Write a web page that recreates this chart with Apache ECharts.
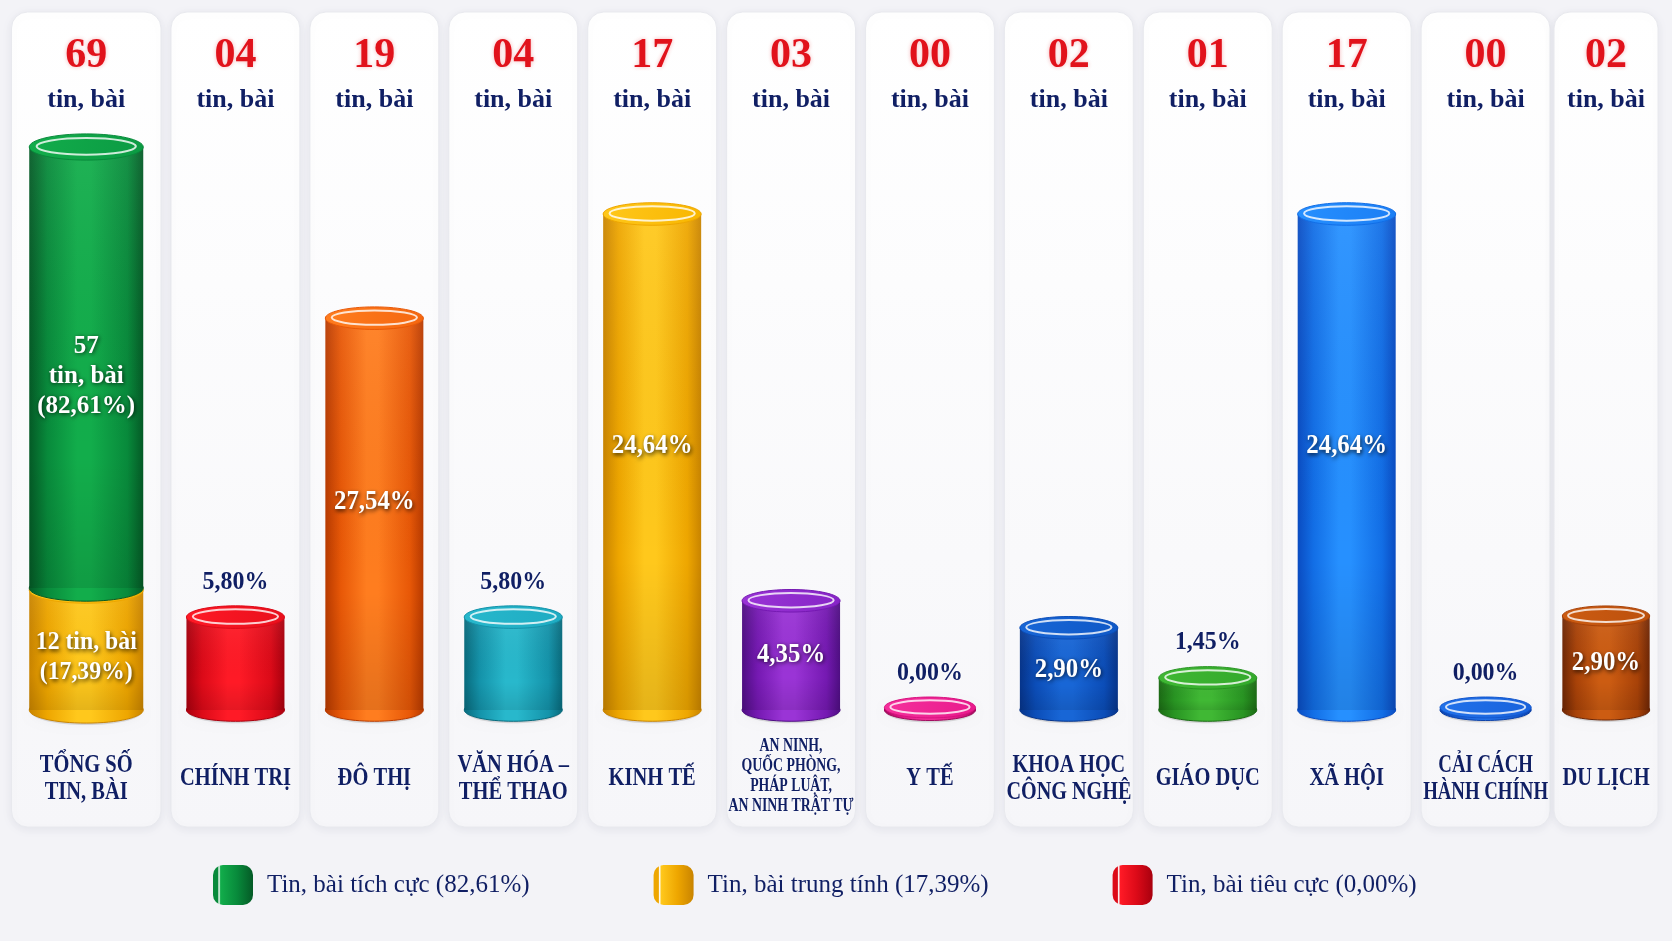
<!DOCTYPE html>
<html>
<head>
<meta charset="utf-8">
<script src="https://cdn.jsdelivr.net/npm/echarts@6/dist/echarts.min.js"></script>
<style>
  html, body { margin: 0; padding: 0; background: #f3f3f7; }
  #chart { width: 1672px; height: 941px; }
</style>
</head>
<body>
<div id="chart"></div>
<script>
// ---------------- DATA ----------------
const categories = [
  'TỔNG SỐ\nTIN, BÀI', 'CHÍNH TRỊ', 'ĐÔ THỊ', 'VĂN HÓA –\nTHỂ THAO', 'KINH TẾ',
  'AN NINH,\nQUỐC PHÒNG,\nPHÁP LUẬT,\nAN NINH TRẬT TỰ', 'Y TẾ', 'KHOA HỌC\nCÔNG NGHỆ',
  'GIÁO DỤC', 'XÃ HỘI', 'CẢI CÁCH\nHÀNH CHÍNH', 'DU LỊCH'
];
const counts   = [69, 4, 19, 4, 17, 3, 0, 2, 1, 17, 0, 2];
const percents = [null, 5.80, 27.54, 5.80, 24.64, 4.35, 0.00, 2.90, 1.45, 24.64, 0.00, 2.90];
// column heights as drawn in the infographic (0–100 visual scale, not proportional to counts)
const barLevel = [100, 16.5, 69.6, 16.5, 88.1, 19.4, 0, 14.6, 5.7, 88.1, 0, 16.7];

const sentimentNames    = ['Tin, bài tích cực', 'Tin, bài trung tính', 'Tin, bài tiêu cực'];
const sentimentCounts   = [57, 12, 0];
const sentimentPercents = [82.61, 17.39, 0.00];
// share of the total column's drawn height (positive, neutral, negative)
const sentimentLevel    = [78.7, 21.3, 0];

// ---------------- STYLE ----------------
const FONT = '"Liberation Serif", "Times New Roman", serif';
const NAVY = '#101f64';
const RED = '#e1121b';
const W = 1672;
const PANEL_TOP = 12, PANEL_BOTTOM = 827, PANEL_GAP = 10, EDGE_L = 11.5, EDGE_R = W - 14;

const PAL = {
  green:  { dark: '#045a26', mid: '#088a3b', light: '#12ad4b', top: '#0b9a43' },
  gold:   { dark: '#c98400', mid: '#eea600', light: '#ffc81c', top: '#f8b600' },
  red:    { dark: '#a8000e', mid: '#dc0a18', light: '#ff1a26', top: '#e80f1c' },
  orange: { dark: '#b83a00', mid: '#e85807', light: '#ff7d1f', top: '#f4660f' },
  teal:   { dark: '#086a7c', mid: '#1493aa', light: '#28b8cc', top: '#1eabc2' },
  purple: { dark: '#4e0e82', mid: '#7519b2', light: '#9a34d6', top: '#8624c6' },
  pink:   { dark: '#a0095c', mid: '#d8127f', light: '#f5309c', top: '#e81a8c' },
  navyb:  { dark: '#06348a', mid: '#0b4db8', light: '#1866d6', top: '#0f58c6' },
  leaf:   { dark: '#1b6a14', mid: '#289422', light: '#40b834', top: '#33a82b' },
  blue:   { dark: '#0a4cc2', mid: '#126ee6', light: '#2690ff', top: '#1b7ef4' },
  blue2:  { dark: '#0a40a8', mid: '#1256cc', light: '#2272ea', top: '#1862dc' },
  brown:  { dark: '#6e2604', mid: '#a84208', light: '#cc5c12', top: '#bc500d' }
};
const topicColor = [null, 'red', 'orange', 'teal', 'gold', 'purple', 'pink', 'navyb', 'leaf', 'blue', 'blue2', 'brown'];
const INSIDE_LABEL = new Set([2, 4, 5, 7, 9, 11]);

const fmtPct = v => v.toFixed(2).replace('.', ',') + '%';
const fmtCount = v => String(v).padStart(2, '0');

const mctx = document.createElement('canvas').getContext('2d');
function textWidth(str, size, weight) {
  mctx.font = weight + ' ' + size + 'px ' + FONT;
  return mctx.measureText(str).width;
}

// card of a category (x = category index on a hidden value axis); outer cards stretch to the page margins
function panelOf(api, idx) {
  const cx = api.coord([idx, 0])[0];
  const band = api.size([1, 0])[0];
  let x0 = cx - band / 2 + PANEL_GAP / 2;
  let x1 = cx + band / 2 - PANEL_GAP / 2;
  if (idx === 0) x0 = EDGE_L;
  if (idx === categories.length - 1) { x1 = EDGE_R; x0 -= 6; }
  x0 = Math.max(EDGE_L, x0);
  x1 = Math.min(EDGE_R, x1);
  return { x0, x1, w: x1 - x0, cx: (x0 + x1) / 2 };
}

function bodyGrad(c) {
  return new echarts.graphic.LinearGradient(0, 0, 1, 0, [
    { offset: 0, color: c.dark }, { offset: 0.16, color: c.mid },
    { offset: 0.42, color: c.light }, { offset: 0.54, color: c.light },
    { offset: 0.86, color: c.mid }, { offset: 1, color: c.dark }
  ]);
}
function topGrad(c) {
  return new echarts.graphic.LinearGradient(0, 0, 1, 1, [
    { offset: 0, color: c.light }, { offset: 1, color: c.top }
  ]);
}
const shadeGrad = () => new echarts.graphic.LinearGradient(0, 0, 0, 1, [
  { offset: 0, color: 'rgba(255,255,255,0.06)' }, { offset: 0.7, color: 'rgba(0,0,0,0)' },
  { offset: 1, color: 'rgba(0,0,0,0.10)' }
]);

function cylinder(cx, w, yTop, yBase, c, withShadow) {
  const rx = w / 2, ry = w * 0.115;
  const ch = [];
  if (withShadow) {
    ch.push({ type: 'ellipse', shape: { cx, cy: yBase + 2, rx: rx * 0.97, ry },
      style: { fill: 'rgba(0,0,0,0.12)', shadowBlur: 8, shadowColor: 'rgba(0,0,0,0.3)' } });
  }
  ch.push({ type: 'ellipse', shape: { cx, cy: yBase, rx, ry },
    style: { fill: bodyGrad(c), stroke: c.dark, lineWidth: 1 } });
  const h = Math.max(0, yBase - yTop);
  ch.push({ type: 'rect', shape: { x: cx - rx, y: yTop, width: w, height: h },
    style: { fill: bodyGrad(c) } });
  if (h > 20) {
    ch.push({ type: 'rect', shape: { x: cx - rx, y: yTop, width: w, height: h },
      style: { fill: shadeGrad() } });
  }
  ch.push({ type: 'ellipse', shape: { cx, cy: yTop, rx, ry },
    style: { fill: topGrad(c), stroke: c.mid, lineWidth: 1 } });
  ch.push({ type: 'ellipse', shape: { cx, cy: yTop - ry * 0.05, rx: rx * 0.87, ry: ry * 0.64 },
    style: { fill: 'none', stroke: 'rgba(255,255,255,0.8)', lineWidth: 2 } });
  return ch;
}

const whiteText = (txt, x, y, size, lh, sx) => ({
  type: 'text', x, y, scaleX: sx || 1, z2: 10,
  style: {
    text: txt, fill: '#ffffff', fontSize: size, fontWeight: 'bold', fontFamily: FONT,
    align: 'center', verticalAlign: 'middle', lineHeight: lh || size,
    textShadowColor: 'rgba(0,0,0,0.75)', textShadowBlur: 4, textShadowOffsetX: 1, textShadowOffsetY: 1.5
  }
});
const navyText = (txt, x, y, size, lh, sx) => ({
  type: 'text', x, y, scaleX: sx || 1, z2: 10,
  style: {
    text: txt, fill: NAVY, fontSize: size, fontWeight: 'bold', fontFamily: FONT,
    align: 'center', verticalAlign: 'middle', lineHeight: lh || size,
    textShadowColor: 'rgba(255,255,255,0.9)', textShadowBlur: 2
  }
});

// ---------------- RENDERERS ----------------
function renderPanel(params, api) {
  const idx = api.value(0);
  const p = panelOf(api, idx);
  const base = api.coord([idx, 0])[1];
  const ch = [];
  ch.push({
    type: 'rect', shape: { x: p.x0, y: PANEL_TOP, width: p.w, height: PANEL_BOTTOM - PANEL_TOP, r: 16 },
    style: {
      fill: new echarts.graphic.LinearGradient(0, 0, 0, 1, [
        { offset: 0, color: '#ffffff' }, { offset: 1, color: '#f6f6f9' }
      ]),
      stroke: '#e8e9ee', lineWidth: 1,
      shadowBlur: 10, shadowColor: 'rgba(30,40,90,0.08)', shadowOffsetY: 2
    }
  });
  ch.push({
    type: 'text', x: p.cx, y: PANEL_TOP + 44,
    style: {
      text: fmtCount(counts[idx]), fill: RED, fontSize: 42, fontWeight: 'bold', fontFamily: FONT,
      align: 'center', verticalAlign: 'middle',
      textShadowColor: 'rgba(225,18,27,0.3)', textShadowBlur: 4
    }
  });
  ch.push(navyText('tin, bài', p.cx, PANEL_TOP + 88, 26));
  const lines = categories[idx].split('\n');
  const small = lines.length > 2;
  const size = small ? 19 : 25;
  const lh = small ? 20 : 27;
  const maxW = Math.max(...lines.map(l => textWidth(l, size, 'bold')));
  const sx = Math.min(0.82, (p.w - 4) / maxW);
  ch.push(navyText(categories[idx], p.cx, base + (small ? 66 : 69), size, lh, sx));
  return { type: 'group', children: ch };
}

function renderTopic(params, api) {
  const idx = api.value(0);
  const lvl = api.value(1);
  const p = panelOf(api, idx);
  const base = api.coord([idx, 0])[1];
  let top = api.coord([idx, lvl])[1];
  let w = Math.min(98, p.w * 0.84);
  if (lvl === 0) { w *= 0.93; top = base - 2.5; }
  const c = PAL[topicColor[idx]];
  const ch = cylinder(p.cx, w, top, base, c, true);
  const ry = w * 0.115;
  const txt = fmtPct(percents[idx]);
  if (INSIDE_LABEL.has(idx)) {
    const h = base - top;
    ch.push(whiteText(txt, p.cx, (top + base) / 2 - 0.04 * h + 4, 27, 27, 0.92));
  } else {
    ch.push(navyText(txt, p.cx, top - ry - 24, 26, 26, 0.92));
  }
  return { type: 'group', children: ch };
}

function totalWidth(p) { return Math.min(114, p.w * 0.86); }

function renderNeutral(params, api) {
  const idx = api.value(0);
  const p = panelOf(api, idx);
  const base = api.coord([idx, api.value(1)])[1];
  const top = api.coord([idx, api.value(2)])[1];
  const w = totalWidth(p);
  const ch = cylinder(p.cx, w, top, base, PAL.gold, true);
  ch.push(whiteText(fmtCount(sentimentCounts[1]) + ' tin, bài\n(' + fmtPct(sentimentPercents[1]) + ')',
    p.cx, (top + base) / 2 + 8, 25, 30, 0.95));
  return { type: 'group', children: ch };
}

function renderPositive(params, api) {
  const idx = api.value(0);
  const p = panelOf(api, idx);
  const start = api.coord([idx, api.value(1)])[1] - 2;
  const top = api.coord([idx, api.value(2)])[1];
  const w = totalWidth(p);
  const ch = cylinder(p.cx, w, top, start, PAL.green, false);
  ch.push(whiteText(String(sentimentCounts[0]) + '\ntin, bài\n(' + fmtPct(sentimentPercents[0]) + ')',
    p.cx, (top + start) / 2 + 9, 25, 30));
  return { type: 'group', children: ch };
}

function renderNegative() { return { type: 'group', children: [] }; }

// ---------------- OPTION ----------------
const seriesNames = sentimentNames.map((n, i) => n + ' (' + fmtPct(sentimentPercents[i]) + ')');
const legendColors = [PAL.green, PAL.gold, PAL.red];
function legendGrad(c) {
  return new echarts.graphic.LinearGradient(0, 0, 1, 0, [
    { offset: 0, color: c.mid }, { offset: 0.12, color: c.mid },
    { offset: 0.15, color: 'rgba(255,255,255,0.85)' }, { offset: 0.19, color: c.light },
    { offset: 0.6, color: c.mid }, { offset: 1, color: c.dark }
  ]);
}

const chart = echarts.init(document.getElementById('chart'));
const neutralEnd = sentimentLevel[1];
const positiveEnd = neutralEnd + sentimentLevel[0];
const negativeEnd = positiveEnd + sentimentLevel[2];

chart.setOption({
  backgroundColor: '#f3f3f7',
  animation: false,
  grid: { left: 0, right: 0, top: 147, bottom: 231 },
  // x = category index; the range leaves room so the card columns sit like the original layout
  xAxis: { type: 'value', min: -0.695, max: 11.342, show: false },
  yAxis: { type: 'value', min: 0, max: 100, show: false },
  legend: {
    left: 208, top: 860, itemWidth: 40, itemHeight: 40, itemGap: 124,
    icon: 'roundRect', selectedMode: false,
    textStyle: { fontFamily: FONT, fontSize: 25, color: NAVY, padding: [0, 0, 0, 9] },
    data: seriesNames.map((n, i) => ({ name: n, itemStyle: { color: legendGrad(legendColors[i]) } }))
  },
  series: [
    {
      type: 'custom', name: 'panels', z: 1, silent: true,
      data: categories.map((c, i) => [i, 0]),
      encode: { x: 0, y: 1 },
      renderItem: renderPanel
    },
    {
      type: 'custom', name: seriesNames[1], z: 3, silent: true,
      itemStyle: { color: PAL.gold.mid },
      data: [[0, 0, neutralEnd]],
      encode: { x: 0, y: [1, 2] },
      renderItem: renderNeutral
    },
    {
      type: 'custom', name: seriesNames[0], z: 4, silent: true,
      itemStyle: { color: PAL.green.mid },
      data: [[0, neutralEnd, positiveEnd]],
      encode: { x: 0, y: [1, 2] },
      renderItem: renderPositive
    },
    {
      type: 'custom', name: seriesNames[2], z: 4, silent: true,
      itemStyle: { color: PAL.red.mid },
      data: [[0, positiveEnd, negativeEnd]],
      encode: { x: 0, y: [1, 2] },
      renderItem: renderNegative
    },
    {
      type: 'custom', name: 'topics', z: 3, silent: true,
      data: categories.map((c, i) => [i, barLevel[i]]).slice(1),
      encode: { x: 0, y: 1 },
      renderItem: renderTopic
    }
  ]
});
</script>
</body>
</html>
